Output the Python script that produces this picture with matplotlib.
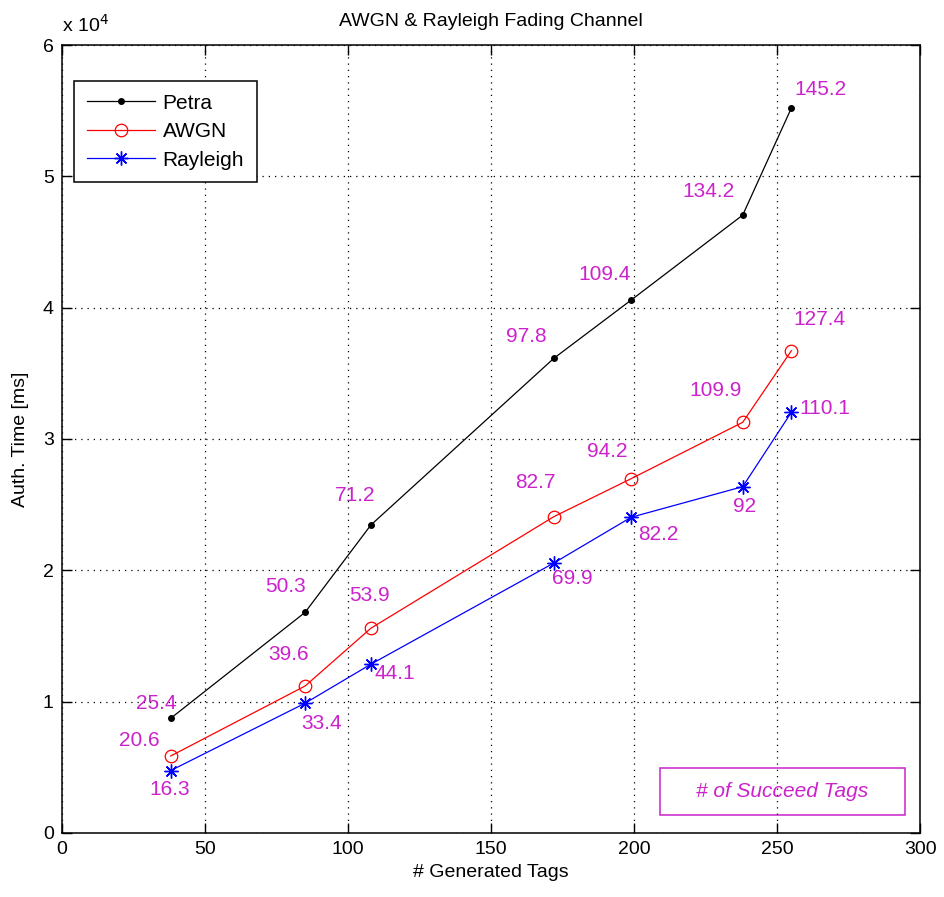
import numpy as np
import matplotlib
matplotlib.use("Agg")
import matplotlib.pyplot as plt
from matplotlib.patches import Rectangle
from matplotlib.ticker import FuncFormatter

plt.rcParams['font.family'] = ['Liberation Sans', 'DejaVu Sans']

# generated tags on x, authentication time (ms) on y
gen_tags = [38, 85, 108, 172, 199, 238, 255]
petra_time = [8730, 16800, 23450, 36150, 40580, 47050, 55200]
awgn_time = [5860, 11190, 15590, 24090, 26980, 31270, 36720]
rayleigh_time = [4750, 9880, 12850, 20560, 24040, 26370, 32030]

# number of successfully authenticated tags at each point
petra_ok = ["25.4", "50.3", "71.2", "97.8", "109.4", "134.2", "145.2"]
awgn_ok = ["20.6", "39.6", "53.9", "82.7", "94.2", "109.9", "127.4"]
rayleigh_ok = ["16.3", "33.4", "44.1", "69.9", "82.2", "92", "110.1"]

# label offsets in pixels
petra_off = [(-14, 15), (-20, 26), (-16, 30), (-28, 22), (-27, 26), (-34, 24), (29, 19)]
awgn_off = [(-31, 16), (-17, 32), (-1, 33), (-19, 34), (-24, 27), (-27, 32), (28, 31)]
rayleigh_off = [(-1, -19), (16, -20), (24, -9), (18, -16), (27, -17), (2, -20), (33, 4)]

fig = plt.figure(figsize=(9.45, 8.97), dpi=100)
ax = fig.add_axes([0.0656, 0.0714, 0.908, 0.8784])

ax.plot(gen_tags, petra_time, color='k', lw=0.9, marker='.', ms=8, label='Petra')
ax.plot(gen_tags, awgn_time, color='r', lw=0.9, marker='o', ms=9, mfc='none', mew=0.9, label='AWGN')
# 8-armed asterisk like matlab's '*'
ax.plot(gen_tags, rayleigh_time, color='b', lw=0.9, marker=(8, 2, 0), ms=10, mew=1.0, label='Rayleigh')

mag = '#cc22cc'
for ys, labs, offs in [(petra_time, petra_ok, petra_off),
                       (awgn_time, awgn_ok, awgn_off),
                       (rayleigh_time, rayleigh_ok, rayleigh_off)]:
    for x, y, s, o in zip(gen_tags, ys, labs, offs):
        ax.annotate(s, (x, y), xytext=o, textcoords='offset pixels',
                    ha='center', va='center', color=mag, fontsize=15)

ax.set_xlim(0, 300)
ax.set_ylim(0, 60000)
ax.set_xticks(np.arange(0, 301, 50))
ax.set_yticks(np.arange(0, 60001, 10000))
ax.yaxis.set_major_formatter(FuncFormatter(lambda v, p: '%d' % round(v / 1e4)))
ax.tick_params(direction='in', top=True, right=True, labelsize=14, length=7, width=1, pad=6)
ax.grid(True, color='k', linestyle=(0, (1, 4)), lw=0.9)
for sp in ax.spines.values():
    sp.set_linewidth(1.1)

ax.set_title('AWGN & Rayleigh Fading Channel', fontsize=14, pad=14)
ax.set_xlabel('# Generated Tags', fontsize=14, labelpad=4)
ax.set_ylabel('Auth. Time [ms]', fontsize=14, labelpad=10)
ax.text(0.0, 1.012, r'x 10$^4$', transform=ax.transAxes, fontsize=14, va='bottom', ha='left')

leg = ax.legend(loc='upper left', bbox_to_anchor=(0.014, 0.954), fontsize=15,
                fancybox=False, edgecolor='k', framealpha=1, handlelength=3.3,
                handletextpad=0.35, borderaxespad=0, borderpad=0.6, labelspacing=0.45)
leg.get_frame().set_linewidth(1.1)

ax.add_patch(Rectangle((0.697, 0.0228), 0.2855, 0.0597, transform=ax.transAxes,
                       fill=False, edgecolor=mag, lw=1.1))
ax.text(0.8398, 0.0527, '# of Succeed Tags', transform=ax.transAxes, color=mag,
        fontsize=15, style='italic', ha='center', va='center')

fig.savefig('out.png', dpi=100)
